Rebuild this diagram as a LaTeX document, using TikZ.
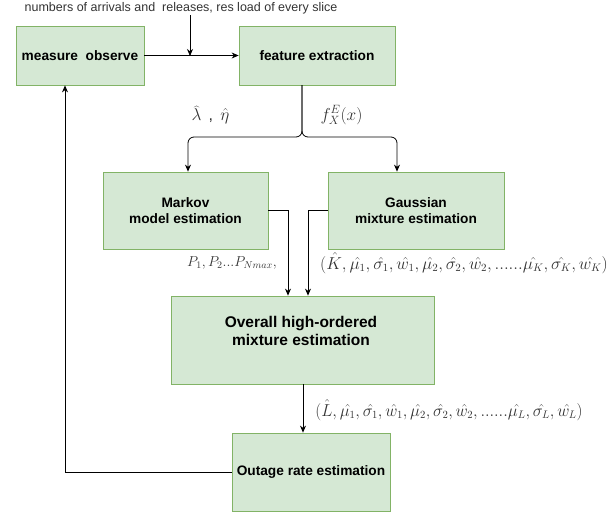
\documentclass[tikz,border=0pt]{standalone}
\usepackage{fontspec}
\setmainfont{Liberation Sans}
\usetikzlibrary{arrows.meta,positioning,calc}
\definecolor{boxfill}{HTML}{D5E8D4}
\definecolor{boxline}{HTML}{82B366}
\definecolor{labgray}{HTML}{333333}
\tikzset{
  blk/.style={draw=boxline,fill=boxfill,line width=0.8pt,inner sep=0pt,align=center,
     font=\fontsize{13.7}{15.5}\selectfont\bfseries,text=black},
  con/.style={draw=black,line width=0.8pt,-{Stealth[length=7pt,width=6pt]}},
  lin/.style={draw=black,line width=0.8pt},
  mlab/.style={text=labgray,inner sep=0pt,font=\fontsize{16}{18}\selectfont},
}
\begin{document}
\begin{tikzpicture}[x=1pt,y=-1pt]
\useasboundingbox (0,0) rectangle (616,515);
% boxes
\node[blk,minimum width=128pt,minimum height=59pt] (meas) at (80,55.5) {measure\ \ observe};
\node[blk,minimum width=156pt,minimum height=59pt] (feat) at (317,55.5) {feature extraction};
\node[blk,minimum width=165pt,minimum height=77pt] (markov) at (185.5,210.5) {Markov\\model estimation};
\node[blk,minimum width=176pt,minimum height=77pt] (gauss) at (416,210.5) {Gaussian\\mixture estimation};
\node[blk,minimum width=263pt,minimum height=88pt] (overall) at (302.5,340) {};
\node[font=\fontsize{15.5}{18}\selectfont\bfseries,align=center,inner sep=0pt] (overalltxt) at (301,331) {Overall high-ordered\\mixture estimation};
\node[blk,minimum width=158pt,minimum height=78pt] (outage) at (311,472) {Outage rate estimation};
% top text
\node[text=labgray,inner sep=0pt,font=\fontsize{12.5}{14}\selectfont] (toptxt) at (181,8) {numbers of arrivals and\ \ releases, res load of every slice};
\coordinate (topin) at (190,15);
\coordinate (topjoin) at (190,56);
% connectors
\draw[con] (meas.east) -- (feat.west);
\draw[con] (topin) -- (topjoin);
\coordinate (featout) at (302,85);
\coordinate (forkL) at (188,137);
\coordinate (forkR) at (397,137);
\draw[con,rounded corners=6pt] (featout) |- (forkL) -- (forkL |- markov.north);
\draw[con,rounded corners=6pt] (featout) |- (forkR) -- (forkR |- gauss.north);
\coordinate (mk) at (288,210.5);
\coordinate (gs) at (308,210.5);
\draw[con] (markov.east) -- (mk) -- (mk |- overall.north);
\draw[con] (gauss.west) -- (gs) -- (gs |- overall.north);
\coordinate (ov) at (303,384);
\draw[con] (ov) -- (ov |- outage.north);
\coordinate (fb) at (65,472);
\draw[con] (outage.west) -- (fb) -- (fb |- meas.south);
% math labels
\node[mlab] (lab1) at (210.5,115) {$\widehat{\lambda}$\,\ ,\ \,$\hat{\eta}$};
\node[mlab,font=\fontsize{17}{19}\selectfont] (lab2) at (341.5,115) {$f_X^E(x)$};
\node[mlab,font=\fontsize{14.5}{16}\selectfont] (lab3) at (232,263) {$P_1, P_2 ... P_{Nmax},$};
\node[mlab,xscale=1.0] (lab4) at (464,263) {$(\hat{K},\hat{\mu_1},\hat{\sigma_1},\hat{w_1},\hat{\mu_2},\hat{\sigma_2},\hat{w_2},......\hat{\mu_K},\hat{\sigma_K},\hat{w_K})$};
\node[mlab,xscale=0.97] (lab5) at (449,410) {$(\hat{L},\hat{\mu_1},\hat{\sigma_1},\hat{w_1},\hat{\mu_2},\hat{\sigma_2},\hat{w_2},......\hat{\mu_L},\hat{\sigma_L},\hat{w_L})$};
\end{tikzpicture}
\end{document}
